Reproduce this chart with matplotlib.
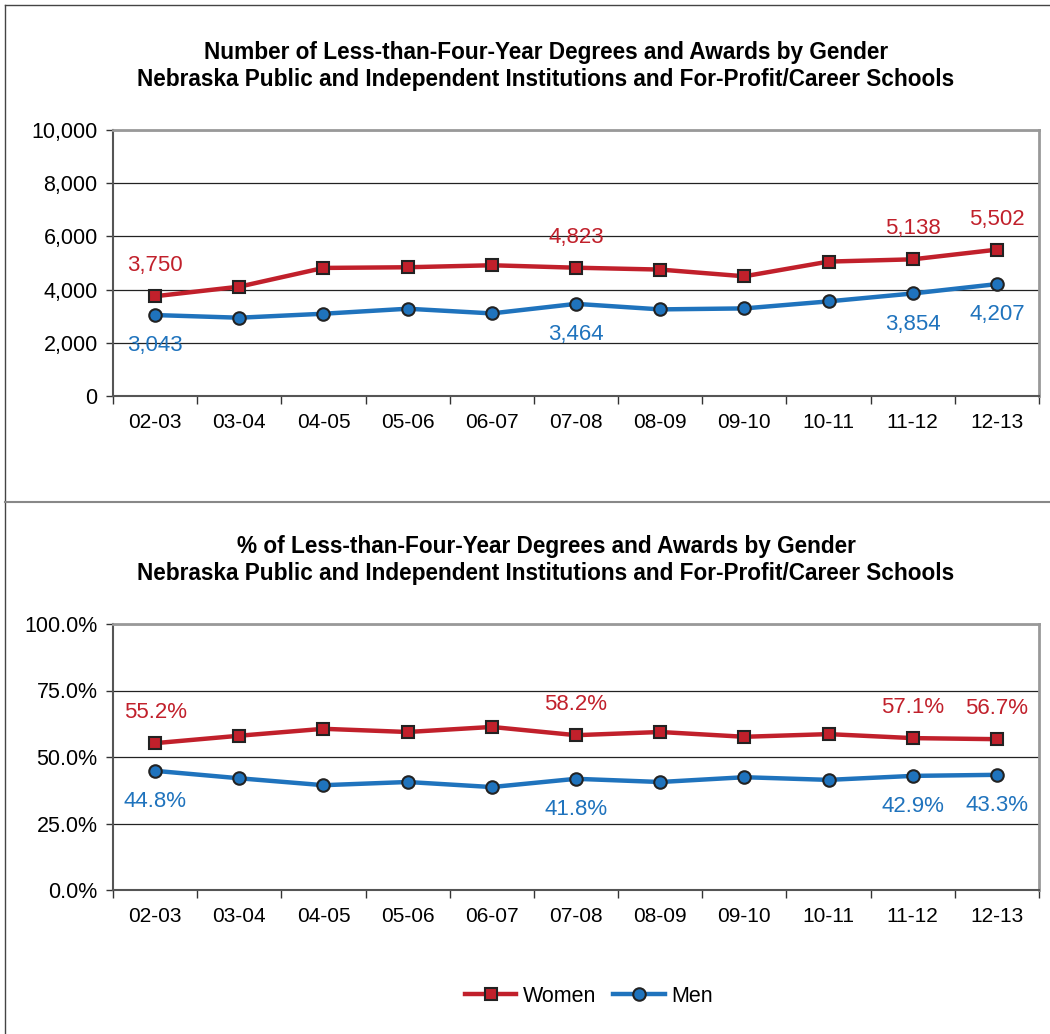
import numpy as np
import matplotlib.pyplot as plt
from matplotlib.lines import Line2D
from matplotlib.ticker import FuncFormatter

plt.rcParams['font.family'] = ['Liberation Sans', 'DejaVu Sans']

years = ['02-03', '03-04', '04-05', '05-06', '06-07', '07-08', '08-09', '09-10', '10-11', '11-12', '12-13']

# counts
women_n = [3750, 4110, 4815, 4840, 4915, 4823, 4753, 4500, 5053, 5138, 5502]
men_n = [3043, 2943, 3093, 3281, 3105, 3464, 3256, 3293, 3557, 3854, 4207]

# percents
women_pct = [55.2, 58.0, 60.6, 59.4, 61.3, 58.2, 59.4, 57.6, 58.6, 57.1, 56.7]
men_pct = [44.8, 42.0, 39.4, 40.6, 38.7, 41.8, 40.6, 42.4, 41.4, 42.9, 43.3]

# which points get a value label
labelled = [0, 5, 9, 10]

red = '#C1202B'
blue = '#1F73BD'

fig = plt.figure(figsize=(10.5, 10.34), dpi=100)

# outer frame lines like the original report boxes
fig.add_artist(Line2D([5 / 1050, 5 / 1050], [0, 1 - 5 / 1034], color='#444444', lw=1.0))
fig.add_artist(Line2D([5 / 1050, 1], [1 - 5 / 1034, 1 - 5 / 1034], color='#444444', lw=1.0))
fig.add_artist(Line2D([5 / 1050, 1], [1 - 502 / 1034, 1 - 502 / 1034], color='#888888', lw=1.5))


def draw_panel(ax, w, m, ymax, step, fmt, lab_fmt, title):
    x = np.arange(len(years))
    ax.plot(x, w, color=red, lw=3.2, marker='s', markersize=9, markerfacecolor=red,
            markeredgecolor='#222222', markeredgewidth=1.5, zorder=3, label='Women')
    ax.plot(x, m, color=blue, lw=3.2, marker='o', markersize=9, markerfacecolor=blue,
            markeredgecolor='#222222', markeredgewidth=1.5, zorder=3, label='Men')
    for i in labelled:
        ax.annotate(lab_fmt(w[i]), (x[i], w[i]), xytext=(0, 22), textcoords='offset points',
                    ha='center', va='center', color=red, fontsize=16)
        ax.annotate(lab_fmt(m[i]), (x[i], m[i]), xytext=(0, -22), textcoords='offset points',
                    ha='center', va='center', color=blue, fontsize=16)
    ax.set_xlim(-0.5, len(years) - 0.5)
    ax.set_ylim(0, ymax)
    ax.set_yticks(np.arange(0, ymax + step / 2, step))
    ax.yaxis.set_major_formatter(FuncFormatter(fmt))
    ax.set_xticks(x)
    ax.set_xticklabels(years)
    ax.set_xticks(np.arange(-0.5, len(years), 1), minor=True)
    ax.tick_params(axis='x', which='major', length=0, pad=12, labelsize=15)
    ax.tick_params(axis='x', which='minor', length=6, width=1, color='#333333')
    ax.tick_params(axis='y', length=5, width=1, color='#333333', labelsize=15.5, pad=6)
    ax.grid(axis='y', color='#222222', lw=0.9)
    ax.set_axisbelow(True)
    for s in ['top', 'right']:
        ax.spines[s].set_color('#999999')
        ax.spines[s].set_linewidth(2)
    for s in ['left', 'bottom']:
        ax.spines[s].set_color('#555555')
        ax.spines[s].set_linewidth(1.5)
    ax.set_title(title, fontsize=16.3, fontweight='bold', pad=32, linespacing=1.2, x=0.4676)


ax1 = fig.add_axes([113 / 1050, 1 - 396 / 1034, 926 / 1050, 266 / 1034])
draw_panel(ax1, women_n, men_n, 10000, 2000,
           lambda v, p: f'{v:,.0f}', lambda v: f'{v:,.0f}',
           'Number of Less-than-Four-Year Degrees and Awards by Gender\n'
           'Nebraska Public and Independent Institutions and For-Profit/Career Schools')

ax2 = fig.add_axes([113 / 1050, 1 - 890 / 1034, 926 / 1050, 266 / 1034])
draw_panel(ax2, women_pct, men_pct, 100, 25,
           lambda v, p: f'{v:.1f}%', lambda v: f'{v:.1f}%',
           '% of Less-than-Four-Year Degrees and Awards by Gender\n'
           'Nebraska Public and Independent Institutions and For-Profit/Career Schools')

handles, labels = ax2.get_legend_handles_labels()
fig.legend(handles, labels, loc='center', bbox_to_anchor=(589 / 1050, 1 - 996 / 1034), ncol=2,
           frameon=False, fontsize=15.5, handlelength=2.4, columnspacing=0.8, handletextpad=0.3)

fig.savefig('out.png', dpi=100)
